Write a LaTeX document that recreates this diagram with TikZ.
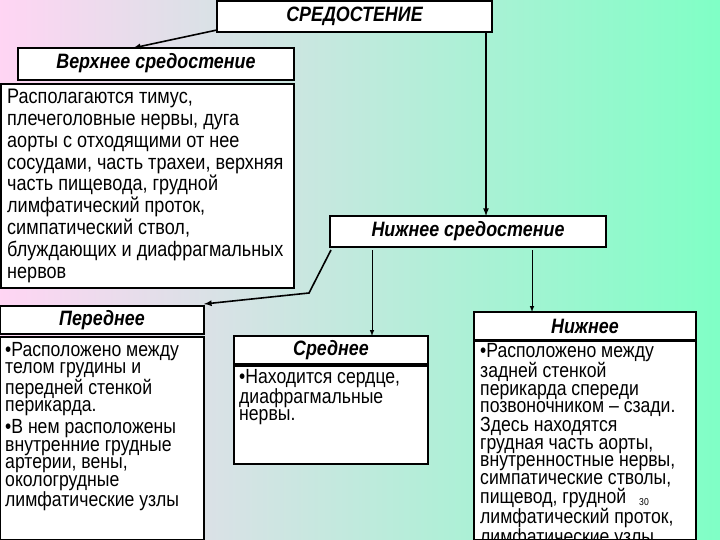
\documentclass[tikz,border=0pt]{standalone}
\usepackage{fontspec}
\setmainfont{Liberation Sans}[FakeStretch=0.86]
\begin{document}
\begin{tikzpicture}[x=1pt,y=-1pt,
  box/.style={draw=black,line width=2pt,fill=white},
  ttl/.style={font=\fontsize{20.8}{22}\selectfont\bfseries\itshape},
  body/.style={font=\fontsize{21}{21.8}\selectfont,align=left,anchor=north west,inner sep=0pt},
  lbody/.style={font=\fontsize{20.5}{17.4}\selectfont,align=left,anchor=north west,inner sep=0pt},
  arr/.style={line width=1.6pt,-latex},
  thin/.style={line width=1pt,-latex}]
\shade[left color=pink!60!magenta!30, middle color=cyan!20, right color=green!45!cyan!50] (0,0) rectangle (720,540);
\useasboundingbox (0,0) rectangle (720,540);
% boxes
\draw[box] (217,1) rectangle (492,32); \node[ttl] (t) at (354.5,16) {СРЕДОСТЕНИЕ};
\draw[box] (18,48) rectangle (294,80); \node[ttl] (v) at (156,63) {Верхнее средостение};
\draw[box] (1,84) rectangle (294,288);
\node[body] (vt) at (7,89) {Располагаются тимус,\\плечеголовные нервы, дуга\\аорты с отходящими от нее\\сосудами, часть трахеи, верхняя\\часть пищевода, грудной\\лимфатический проток,\\симпатический ствол,\\блуждающих и диафрагмальных\\нервов};
\draw[box] (330,216) rectangle (606,247); \node[ttl] (n) at (468,231.5) {Нижнее средостение};
\draw[box] (0,306) rectangle (204,334); \node[ttl] (p) at (102,320) {Переднее};
\draw[box] (0,337) rectangle (204,540);
\node[lbody] (pt) at (5,342) {•Расположено между\\телом грудины и\\передней стенкой\\перикарда.\\[3pt]•В нем расположены\\внутренние грудные\\артерии, вены,\\окологрудные\\лимфатические узлы};
\draw[box] (234,336) rectangle (428,364); \node[ttl] (s) at (331,350) {Среднее};
\draw[box] (234,366) rectangle (428,464);
\node[lbody] (st) at (239,369) {•Находится сердце,\\диафрагмальные\\нервы.};
\draw[box] (474,312) rectangle (696,340); \node[ttl] (z) at (585,326) {Нижнее};
\draw[box] (474,341) rectangle (696,540);
\node[lbody] (zt) at (480,343) {•Расположено между\\задней стенкой\\перикарда спереди\\позвоночником – сзади.\\Здесь находятся\\грудная часть аорты,\\внутренностные нервы,\\симпатические стволы,\\пищевод, грудной\\лимфатический проток,\\лимфатические узлы.};
\node[font=\fontsize{10}{11}\selectfont] (num) at (644,502) {30};
% connectors
\coordinate (a1) at (217,30); \coordinate (a2) at (133,48);
\draw[arr] (a1) -- (a2);
\coordinate (b1) at (486,33); \coordinate (b2) at (486,216);
\draw[arr] (b1) -- (b2);
\coordinate (c1) at (331,250); \coordinate (c2) at (309,293); \coordinate (c3) at (204,304);
\draw[arr] (c1) -- (c2) -- (c3);
\coordinate (d1) at (372,250); \coordinate (d2) at (372,336);
\draw[thin] (d1) -- (d2);
\coordinate (e1) at (532,250); \coordinate (e2) at (532,312);
\draw[thin] (e1) -- (e2);
\end{tikzpicture}
\end{document}
